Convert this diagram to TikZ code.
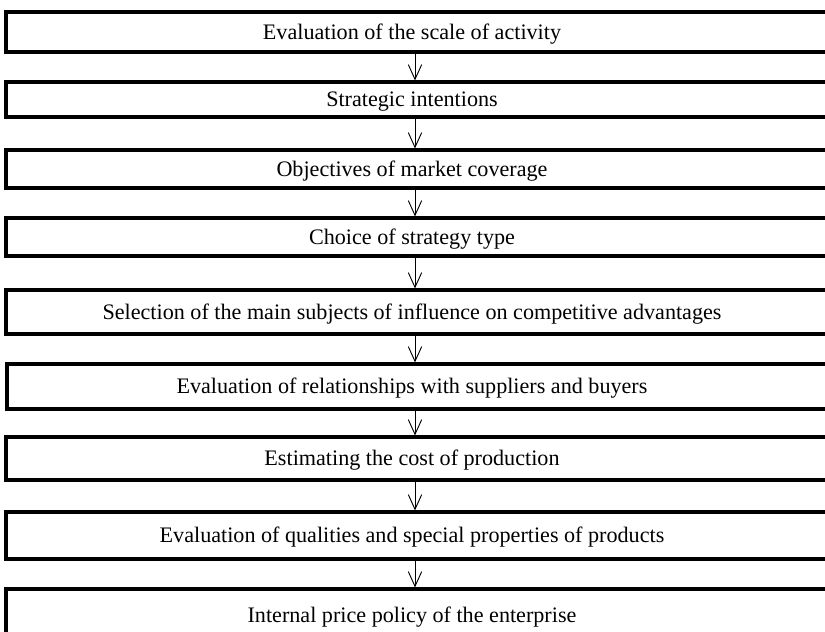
\documentclass[tikz,border=0pt]{standalone}
\usepackage{fontspec}
\setmainfont{Liberation Serif}
\usetikzlibrary{arrows.meta}
\tikzstyle{stage}=[draw,line width=2.3pt,minimum width=625.5pt,inner sep=0pt]
\tikzstyle{caption}=[font=\fontsize{16.6}{19}\selectfont,inner sep=1pt,yshift=-1.2pt]
\tikzstyle{flow}=[line width=0.7pt,-{Straight Barb[length=11pt,width=10pt,line width=0.7pt]}]

\begin{document}
\begin{tikzpicture}[x=0.75pt,y=-0.75pt]
  \useasboundingbox (0,0) rectangle (825,632);
  \clip (0,0) rectangle (825,632);
  \coordinate (tx) at (412,0);
  \coordinate (ax) at (415,0);
  % boxes
  \node[stage,minimum height=30pt] (s1) at (423,32) {};
  \node[stage,minimum height=26.25pt] (s2) at (423,99.5) {};
  \node[stage,minimum height=28.5pt] (s3) at (423,169) {};
  \node[stage,minimum height=28.5pt] (s4) at (423,237) {};
  \node[stage,minimum height=33pt] (s5) at (423,312) {};
  \node[stage,minimum height=33.75pt] (s6) at (424,386.5) {};
  \node[stage,minimum height=32.25pt] (s7) at (423,458.5) {};
  \node[stage,minimum height=35.25pt] (s8) at (423,535.5) {};
  \node[stage,minimum height=39pt] (s9) at (423,615) {};
  % texts
  \node[caption] (t1) at (s1 -| tx) {Evaluation of the scale of activity};
  \node[caption] (t2) at (s2 -| tx) {Strategic intentions};
  \node[caption] (t3) at (s3 -| tx) {Objectives of market coverage};
  \node[caption] (t4) at (s4 -| tx) {Choice of strategy type};
  \node[caption] (t5) at (s5 -| tx) {Selection of the main subjects of influence on competitive advantages};
  \node[caption] (t6) at (s6 -| tx) {Evaluation of relationships with suppliers and buyers};
  \node[caption] (t7) at (s7 -| tx) {Estimating the cost of production};
  \node[caption] (t8) at (s8 -| tx) {Evaluation of qualities and special properties of products};
  \node[caption] (t9) at (s9 -| tx) {Internal price policy of the enterprise};
  % arrows
  \draw[flow] (s1.south -| ax) -- (s2.north -| ax);
  \draw[flow] (s2.south -| ax) -- (s3.north -| ax);
  \draw[flow] (s3.south -| ax) -- (s4.north -| ax);
  \draw[flow] (s4.south -| ax) -- (s5.north -| ax);
  \draw[flow] (s5.south -| ax) -- (s6.north -| ax);
  \draw[flow] (s6.south -| ax) -- (s7.north -| ax);
  \draw[flow] (s7.south -| ax) -- (s8.north -| ax);
  \draw[flow] (s8.south -| ax) -- (s9.north -| ax);
\end{tikzpicture}
\end{document}
